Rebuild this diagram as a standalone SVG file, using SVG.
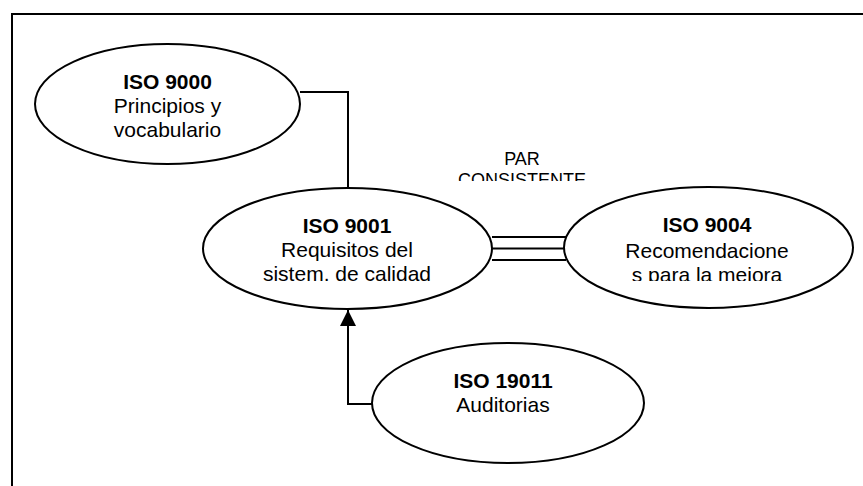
<svg xmlns="http://www.w3.org/2000/svg" width="863" height="486" viewBox="0 0 863 486">
<style>
.node ellipse{fill:#fff;stroke:#000;stroke-width:2}
text{font-family:"Liberation Sans",Arial,sans-serif;font-size:21px;fill:#000;text-anchor:middle}
.b{font-weight:bold}
.lbl{font-size:18px}
.conn{fill:none;stroke:#000;stroke-width:2}
</style>
<defs>
<marker id="arr" viewBox="0 0 16 16" refX="16" refY="8" markerWidth="16" markerHeight="16" markerUnits="userSpaceOnUse" orient="auto">
<path d="M0,0 L16,8 L0,16 Z" fill="#000"/>
</marker>
<clipPath id="clipPar"><rect x="430" y="140" width="200" height="41"/></clipPath>
<clipPath id="clip9004"><rect x="560" y="180" width="300" height="101"/></clipPath>
</defs>
<rect x="12" y="14" width="900" height="500" fill="none" stroke="#000" stroke-width="2"/>
<g id="connectors">
<polyline class="conn" points="300,92 348,92 348,188"/>
<line class="conn" x1="492" y1="237" x2="566" y2="237"/>
<line class="conn" x1="492" y1="248.5" x2="568" y2="248.5"/>
<line class="conn" x1="492" y1="260" x2="566" y2="260"/>
<polyline class="conn" points="372,404 348,404 348,310" marker-end="url(#arr)"/>
<g id="label-par" clip-path="url(#clipPar)">
<text class="lbl" x="522" y="165">PAR</text>
<text class="lbl" x="522" y="186">CONSISTENTE</text>
</g>
</g>
<g id="iso9000" class="node">
<ellipse cx="167.5" cy="104" rx="132.5" ry="60"/>
<text class="b" x="167.5" y="89">ISO 9000</text>
<text x="167.5" y="113">Principios y</text>
<text x="167.5" y="137">vocabulario</text>
</g>
<g id="iso9001" class="node">
<ellipse cx="347.5" cy="248.5" rx="144.5" ry="60.5"/>
<text class="b" x="347" y="233">ISO 9001</text>
<text x="347" y="257">Requisitos del</text>
<text x="347" y="281">sistem. de calidad</text>
</g>
<g id="iso9004" class="node">
<ellipse cx="708.5" cy="247.5" rx="144.5" ry="60.5"/>
<g clip-path="url(#clip9004)">
<text class="b" x="707" y="232">ISO 9004</text>
<text x="707" y="258">Recomendacione</text>
<text x="707" y="282">s para la mejora</text>
</g>
</g>
<g id="iso19011" class="node">
<ellipse cx="508" cy="403" rx="136" ry="60"/>
<text class="b" x="503" y="388">ISO 19011</text>
<text x="503" y="412">Auditorias</text>
</g>
</svg>
